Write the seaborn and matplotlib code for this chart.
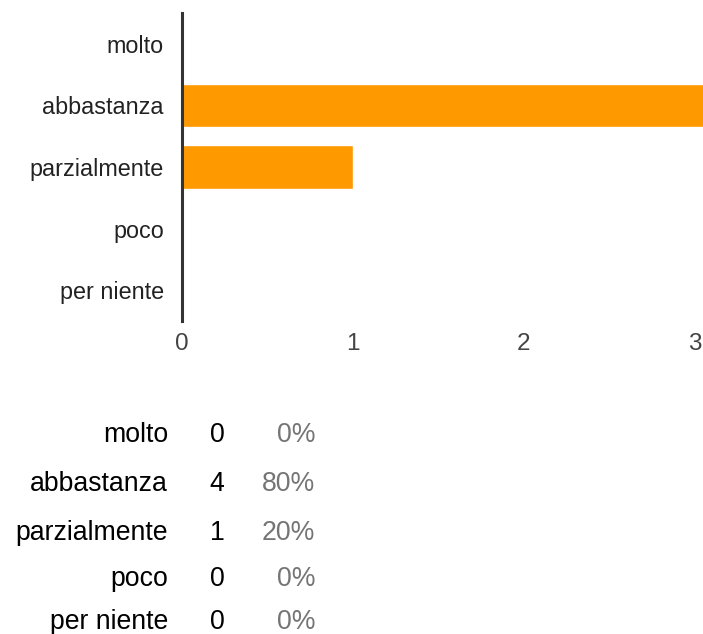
import matplotlib
matplotlib.use("Agg")
import matplotlib.pyplot as plt
import seaborn as sns
import pandas as pd

categories = ["molto", "abbastanza", "parzialmente", "poco", "per niente"]
counts = [0, 4, 1, 0, 0]
percents = ["0%", "80%", "20%", "0%", "0%"]
x_ticks = [0, 1, 2, 3]

sns.set_theme(style="white")
plt.rcParams["font.family"] = ["Liberation Sans", "DejaVu Sans"]

W, H = 703, 634
fig = plt.figure(figsize=(W / 100, H / 100), dpi=100)
ax = fig.add_axes([182 / W, 1 - 321 / H, (W - 182) / W, (321 - 13) / H])

df = pd.DataFrame({"cat": categories, "n": counts})
sns.barplot(data=df, x="n", y="cat", order=categories, color="#FF9900",
            saturation=1, width=0.70, ax=ax, orient="h")

ax.set_xlim(0, (W - 182) / 170.8)
ax.set_ylim(4.5, -0.5)
ax.set_xticks(x_ticks)
ax.set_xticklabels([str(t) for t in x_ticks])
ax.set_xlabel("")
ax.set_ylabel("")
for s in ["top", "right", "bottom"]:
    ax.spines[s].set_visible(False)
ax.spines["left"].set_color("#333333")
ax.spines["left"].set_linewidth(2.2)
ax.spines["left"].set_zorder(5)
ax.tick_params(axis="y", length=0, pad=13, labelsize=16.8, labelcolor="#222222")
ax.tick_params(axis="x", length=0, pad=9, labelsize=17.5, labelcolor="#444444")
ax.grid(False)

# summary table
baselines = [442, 491, 540, 586, 629]
for cat, n, p, yb in zip(categories, counts, percents, baselines):
    yf = 1 - yb / H
    fig.text(168 / W, yf, cat, ha="right", va="baseline", fontsize=19.2, color="#000000")
    fig.text(217 / W, yf, str(n), ha="center", va="baseline", fontsize=19.2, color="#000000")
    fig.text(315 / W, yf, p, ha="right", va="baseline", fontsize=19.2, color="#757575")

fig.savefig("out.png", dpi=100)
